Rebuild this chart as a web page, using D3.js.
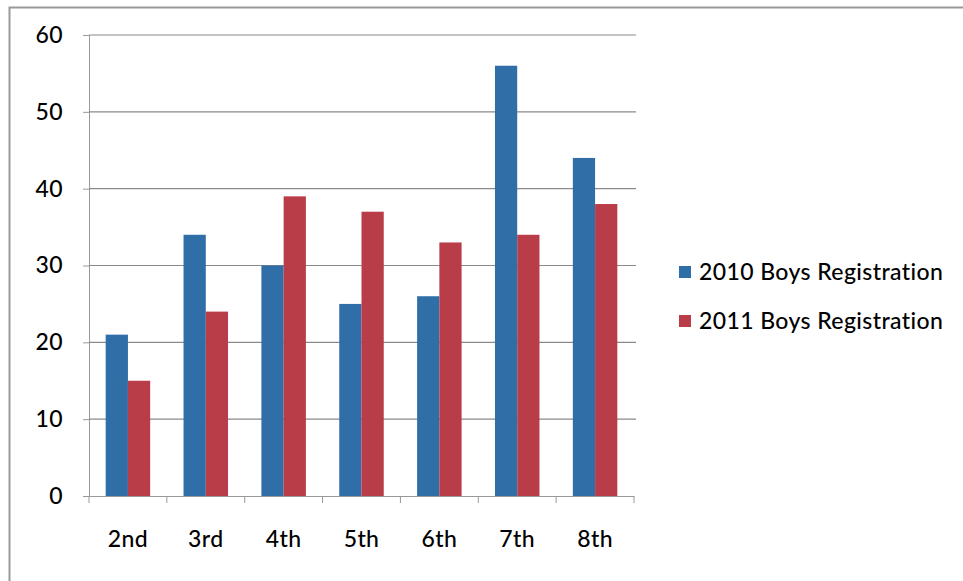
<!DOCTYPE html>
<html>
<head>
<meta charset="utf-8">
<script src="https://cdn.jsdelivr.net/npm/d3@7"></script>
<style>
  body { margin: 0; background: #fff; }
  svg text { font-family: Lato, 'Open Sans', sans-serif; fill: #000; letter-spacing: 0.4px; }
</style>
</head>
<body>
<svg id="canvas" width="963" height="581"></svg>
<script>
let grades = ['2nd', '3rd', '4th', '5th', '6th', '7th', '8th']
let boys2010 = [21, 34, 30, 25, 26, 56, 44]
let boys2011 = [15, 24, 39, 37, 33, 34, 38]
let seriesNames = ['2010 Boys Registration', '2011 Boys Registration']
let yTicks = [0, 10, 20, 30, 40, 50, 60]
let colors = ['#2f6ea7', '#b93d49']

let canvas = d3.select('#canvas')

// outer chart frame (right and bottom edges fall outside the picture)
canvas.append('rect')
  .attr('x', 9.5).attr('y', 7.5)
  .attr('width', 1000).attr('height', 700)
  .attr('fill', 'none')
  .attr('stroke', '#999').attr('stroke-width', 2)

let plotLeft = 89, plotRight = 634, plotTop = 35, plotBottom = 496

let x = d3.scaleBand().domain(grades).range([plotLeft, plotRight])
let xInner = d3.scaleBand().domain([0, 1]).range([0, x.bandwidth()]).paddingOuter(0.75)
let y = d3.scaleLinear().domain([0, 60]).range([plotBottom, plotTop])

// gridlines + y axis
let yAxis = canvas.append('g')
  .attr('transform', 'translate(' + plotLeft + ',0)')
  .call(d3.axisLeft(y).tickValues(yTicks).tickSize(6).tickPadding(20))
yAxis.select('.domain').attr('stroke', '#999')
yAxis.selectAll('.tick line').attr('stroke', '#999')
yAxis.selectAll('.tick text').attr('font-size', 23).attr('font-weight', 500).style('fill', '#000')

canvas.append('g').selectAll('line')
  .data(yTicks.filter(d => d > 0))
  .enter()
  .append('line')
  .attr('x1', plotLeft).attr('x2', plotRight + 2)
  .attr('y1', d => y(d)).attr('y2', d => y(d))
  .attr('stroke', '#8a8a8a').attr('stroke-width', 1.2)

// bars
let groups = canvas.append('g').selectAll('g')
  .data(grades)
  .enter()
  .append('g')
  .attr('transform', d => 'translate(' + x(d) + ',0)')

groups.selectAll('rect')
  .data((d, i) => [boys2010[i], boys2011[i]])
  .enter()
  .append('rect')
  .attr('x', (d, j) => xInner(j))
  .attr('width', xInner.bandwidth())
  .attr('y', d => y(d))
  .attr('height', d => plotBottom - y(d))
  .attr('fill', (d, j) => colors[j])

// x axis
let xAxis = canvas.append('g')
  .attr('transform', 'translate(0,' + plotBottom + ')')
  .call(d3.axisBottom(x).tickSize(0).tickPadding(35))
xAxis.select('.domain').attr('stroke', '#999')
xAxis.selectAll('.tick text').attr('font-size', 23).attr('font-weight', 500).style('fill', '#000')

canvas.append('g').selectAll('line')
  .data(d3.range(grades.length + 1))
  .enter()
  .append('line')
  .attr('x1', d => plotLeft + d * x.step()).attr('x2', d => plotLeft + d * x.step())
  .attr('y1', plotBottom).attr('y2', plotBottom + 7)
  .attr('stroke', '#999')

// legend
let legend = canvas.append('g').selectAll('g')
  .data(seriesNames)
  .enter()
  .append('g')
  .attr('transform', (d, i) => 'translate(679,' + (266 + i * 49) + ')')

legend.append('rect')
  .attr('width', 12).attr('height', 12)
  .attr('fill', (d, i) => colors[i])

legend.append('text')
  .attr('x', 20).attr('y', 6)
  .attr('dy', '0.35em')
  .attr('font-size', 23)
  .attr('font-weight', 500)
  .text(d => d)
</script>
</body>
</html>
